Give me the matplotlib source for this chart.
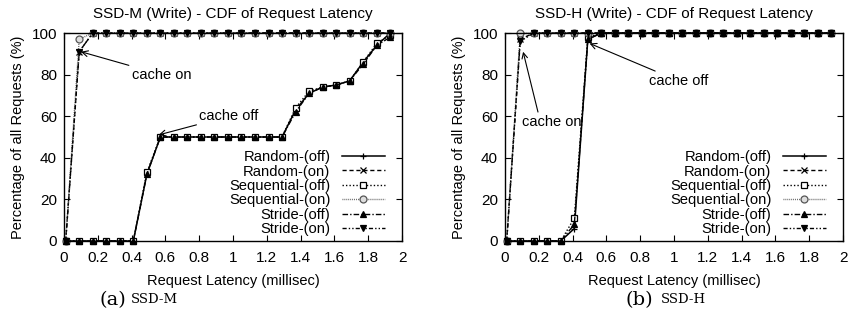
import numpy as np
import matplotlib
matplotlib.use("Agg")
import matplotlib.pyplot as plt

plt.rcParams['font.family'] = ['Liberation Sans', 'DejaVu Sans']

# sample latencies (millisec)
lat = [0.01, 0.09, 0.17, 0.25, 0.33, 0.41, 0.49, 0.57, 0.65, 0.73, 0.81, 0.89, 0.97,
       1.05, 1.13, 1.21, 1.29, 1.37, 1.45, 1.53, 1.61, 1.69, 1.77, 1.85, 1.93]

# SSD-M, cumulative % of requests
m_rand_off = [0, 0, 0, 0, 0, 0, 32, 50, 50, 50, 50, 50, 50, 50, 50, 50, 50, 63, 71, 74, 75, 77, 86, 94, 100]
m_rand_on = [0, 91, 100, 100, 100, 100, 100, 100, 100, 100, 100, 100, 100, 100, 100, 100, 100, 100, 100, 100, 100, 100, 100, 100, 100]
m_seq_off = [0, 0, 0, 0, 0, 0, 33, 50, 50, 50, 50, 50, 50, 50, 50, 50, 50, 64, 72, 74, 75, 77, 86, 95, 99]
m_seq_on = [0, 97, 100, 100, 100, 100, 100, 100, 100, 100, 100, 100, 100, 100, 100, 100, 100, 100, 100, 100, 100, 100, 100, 100, 100]
m_str_off = [0, 0, 0, 0, 0, 0, 32, 50, 50, 50, 50, 50, 50, 50, 50, 50, 50, 62, 71, 74, 75, 77, 85, 94, 98]
m_str_on = [0, 91, 100, 100, 100, 100, 100, 100, 100, 100, 100, 100, 100, 100, 100, 100, 100, 100, 100, 100, 100, 100, 100, 100, 100]

# SSD-H
h_rand_off = [0, 0, 0, 0, 0, 6, 97, 100, 100, 100, 100, 100, 100, 100, 100, 100, 100, 100, 100, 100, 100, 100, 100, 100, 100]
h_rand_on = [0, 97, 100, 100, 100, 100, 100, 100, 100, 100, 100, 100, 100, 100, 100, 100, 100, 100, 100, 100, 100, 100, 100, 100, 100]
h_seq_off = [0, 0, 0, 0, 0, 11, 98, 100, 100, 100, 100, 100, 100, 100, 100, 100, 100, 100, 100, 100, 100, 100, 100, 100, 100]
h_seq_on = [0, 100, 100, 100, 100, 100, 100, 100, 100, 100, 100, 100, 100, 100, 100, 100, 100, 100, 100, 100, 100, 100, 100, 100, 100]
h_str_off = [0, 0, 0, 0, 0, 8, 97, 100, 100, 100, 100, 100, 100, 100, 100, 100, 100, 100, 100, 100, 100, 100, 100, 100, 100]
h_str_on = [0, 96, 100, 100, 100, 100, 100, 100, 100, 100, 100, 100, 100, 100, 100, 100, 100, 100, 100, 100, 100, 100, 100, 100, 100]

labels = ['Random-(off)', 'Random-(on)', 'Sequential-(off)', 'Sequential-(on)', 'Stride-(off)', 'Stride-(on)']
styles = [
    dict(ls='-', marker='+', color='black', mfc='black', lw=1.1),
    dict(ls=(0, (3, 2)), marker='x', color='black', mfc='black', lw=1.0),
    dict(ls=(0, (1, 1.5)), marker='s', color='black', mfc='white', lw=1.0),
    dict(ls=(0, (0.6, 0.8)), marker='o', color='#555555', mfc='#dddddd', lw=1.0),
    dict(ls=(0, (4, 1.5, 1, 1.5)), marker='^', color='black', mfc='black', lw=1.0),
    dict(ls=(0, (3, 1.5, 1, 1.5, 1, 1.5)), marker='v', color='black', mfc='black', lw=1.0),
]


def draw(ax, series, title):
    for y, lab, st in zip(series, labels, styles):
        ax.plot(lat, y, label=lab, ms=5, mew=0.9, clip_on=False, **st)
    ax.set_xlim(0, 2)
    ax.set_ylim(0, 100)
    ax.set_xticks(np.arange(0, 2.01, 0.2))
    ax.set_xticklabels(['0', '0.2', '0.4', '0.6', '0.8', '1', '1.2', '1.4', '1.6', '1.8', '2'])
    ax.set_yticks([0, 20, 40, 60, 80, 100])
    ax.tick_params(direction='in', top=True, right=True, length=4, labelsize=11)
    ax.tick_params(axis='x', pad=7)
    ax.tick_params(axis='y', pad=5)
    for sp in ax.spines.values():
        sp.set_linewidth(1.0)
    ax.set_title(title, fontsize=11, pad=11)
    ax.set_xlabel('Request Latency (millisec)', fontsize=10.5, labelpad=7)
    ax.set_ylabel('Percentage of all Requests (%)', fontsize=10.5, labelpad=5)
    ax.legend(loc='lower right', bbox_to_anchor=(0.975, -0.02), frameon=False, markerfirst=False,
              fontsize=10.6, handlelength=2.9, handletextpad=0.8, labelspacing=0.03,
              borderpad=0.1)


fig = plt.figure(figsize=(8.58, 3.14), dpi=100)
ax1 = fig.add_axes([0.0746, 0.2325, 0.394, 0.6624])
ax2 = fig.add_axes([0.5886, 0.2325, 0.394, 0.6624])

draw(ax1, [m_rand_off, m_rand_on, m_seq_off, m_seq_on, m_str_off, m_str_on],
     'SSD-M (Write) - CDF of Request Latency')
draw(ax2, [h_rand_off, h_rand_on, h_seq_off, h_seq_on, h_str_off, h_str_on],
     'SSD-H (Write) - CDF of Request Latency')

arrow = dict(arrowstyle='->', color='black', lw=0.8, shrinkA=0, shrinkB=0)
ax1.annotate('cache on', xy=(0.1, 91), xytext=(0.4, 80), fontsize=10.5, va='center', arrowprops=arrow)
ax1.annotate('cache off', xy=(0.56, 51), xytext=(0.8, 60), fontsize=10.5, va='center', arrowprops=arrow)
ax2.text(0.1, 57, 'cache on', fontsize=10.5, va='center')
ax2.annotate('', xy=(0.107, 91), xytext=(0.195, 62), arrowprops=arrow)
ax2.annotate('cache off', xy=(0.5, 95), xytext=(0.85, 77), fontsize=10.5, va='center', arrowprops=arrow)

fig.text(0.1165, 0.045, '(a)', fontsize=14, family='DejaVu Serif', va='center', ha='left')
fig.text(0.1525, 0.045, 'SSD-M', fontsize=9.5, family='DejaVu Serif', va='center', ha='left')
fig.text(0.7295, 0.045, '(b)', fontsize=14, family='DejaVu Serif', va='center', ha='left')
fig.text(0.770, 0.045, 'SSD-H', fontsize=9.5, family='DejaVu Serif', va='center', ha='left')

fig.savefig('out.png', dpi=100)
